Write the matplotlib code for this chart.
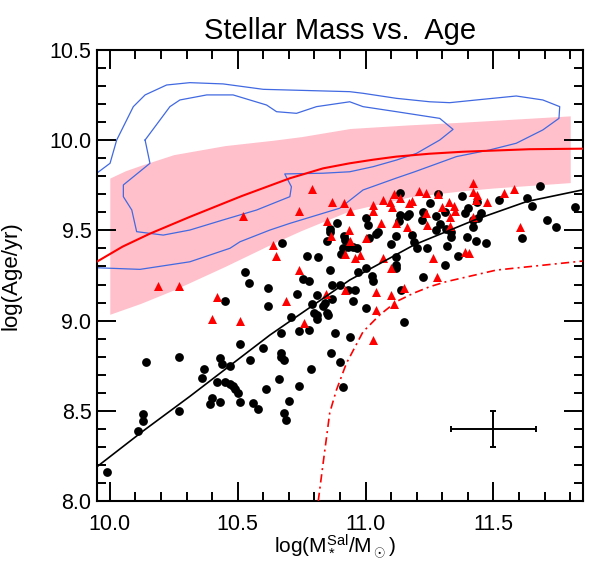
import matplotlib
matplotlib.use('Agg')
import matplotlib.pyplot as plt
from matplotlib.ticker import MultipleLocator

plt.rc('font', family='Liberation Sans', size=15.5)
plt.rc('mathtext', fontset='custom', rm='Liberation Sans', it='Liberation Sans:italic', bf='Liberation Sans:bold')

# galaxies: black circles
black_x = [9.99, 10.11, 10.13, 10.13, 10.14, 10.27, 10.27, 10.36, 10.37, 10.39, 10.40, 10.43, 10.42, 10.43, 10.44,
           10.45, 10.47, 10.48, 10.49, 10.50, 10.47, 10.51, 10.51, 10.55, 10.56, 10.58, 10.45, 10.53, 10.545, 10.60,
           10.61, 10.62, 10.62, 10.66, 10.67, 10.67, 10.67, 10.675, 10.68, 10.68, 10.69, 10.70, 10.71, 10.73, 10.74,
           10.74, 10.755, 10.77, 10.78, 10.78, 10.785, 10.79, 10.80, 10.81, 10.81, 10.815, 10.81, 10.835, 10.84, 10.85,
           10.855, 10.85, 10.86, 10.86, 10.86, 10.87, 10.87, 10.865, 10.88, 10.89, 10.90, 10.90, 10.905, 10.91, 10.91,
           10.915, 10.92, 10.93, 10.93, 10.94, 10.95, 10.965, 10.96, 10.95, 10.97, 11.00, 11.00, 11.01, 11.00, 11.015,
           11.04, 11.05, 11.025, 11.03, 11.10, 11.12, 11.135, 11.135, 11.16, 11.17, 11.13, 11.12, 11.12, 11.12, 11.14,
           11.15, 11.18, 11.19, 11.20, 11.22, 11.225, 11.24, 11.225, 11.25, 11.275, 11.285, 11.29, 11.275, 11.31, 11.315,
           11.335, 11.335, 11.32, 11.31, 11.36, 11.375, 11.40, 11.39, 11.395, 11.42, 11.42, 11.435, 11.44, 11.45, 11.43,
           11.47, 11.52, 11.63, 11.65, 11.68, 11.71, 11.745, 11.82, 11.61]
black_y = [8.16, 8.39, 8.48, 8.445, 8.77, 8.80, 8.50, 8.68, 8.73, 8.54, 8.57, 8.55, 8.66, 8.79, 8.76,
           8.66, 8.65, 8.64, 8.62, 8.60, 8.75, 8.55, 8.87, 8.78, 8.545, 8.51, 9.11, 9.27, 9.21, 8.85,
           8.62, 9.18, 9.08, 8.675, 8.93, 8.82, 8.80, 9.43, 8.49, 8.78, 8.45, 8.555, 9.02, 9.15, 8.94,
           8.64, 9.23, 9.36, 9.22, 8.95, 8.73, 9.09, 9.04, 9.03, 9.01, 9.35, 9.14, 9.08, 9.095, 9.04,
           9.03, 9.44, 9.51, 9.49, 9.28, 9.20, 9.12, 8.82, 8.93, 9.54, 9.20, 8.77, 9.37, 8.63, 9.40,
           9.47, 9.445, 9.41, 9.17, 8.91, 9.41, 9.40, 9.17, 9.11, 9.27, 9.07, 9.57, 9.53, 9.29, 9.46,
           9.48, 9.49, 9.25, 9.22, 9.425, 9.47, 9.71, 9.585, 9.58, 9.59, 9.55, 9.35, 9.31, 9.29, 9.17,
           8.99, 9.475, 9.435, 9.40, 9.555, 9.60, 9.405, 9.24, 9.65, 9.58, 9.70, 9.535, 9.50, 9.60, 9.505,
           9.49, 9.465, 9.415, 9.31, 9.36, 9.69, 9.625, 9.595, 9.465, 9.52, 9.56, 9.655, 9.57, 9.595, 9.44,
           9.43, 9.67, 9.68, 9.635, 9.745, 9.555, 9.52, 9.63, 9.46]

# galaxies: red triangles
red_x = [10.19, 10.27, 10.42, 10.40, 10.51, 10.52, 10.64, 10.65, 10.69, 10.74, 10.74, 10.76, 10.79, 10.845,
         10.85, 10.865, 10.87, 10.915, 10.92, 10.92, 10.935, 10.94, 10.94, 10.96, 10.98, 11.00, 11.03, 11.03,
         11.04, 11.04, 11.03, 11.06, 11.07, 11.07, 11.10, 11.10, 11.11, 11.11, 11.095, 11.105, 11.12, 11.135,
         11.15, 11.16, 11.17, 11.18, 11.21, 11.235, 11.235, 11.24, 11.265, 11.28, 11.285, 11.30, 11.325, 11.345,
         11.35, 11.33, 11.33, 11.39, 11.405, 11.42, 11.42, 11.435, 11.43, 11.42, 11.475, 11.54, 11.58, 11.605]
red_y = [9.19, 9.19, 9.13, 9.01, 9.00, 9.58, 9.42, 9.36, 9.11, 9.61, 9.28, 8.985, 9.73, 9.15,
         9.55, 9.47, 9.66, 9.65, 9.37, 9.17, 9.50, 9.44, 9.61, 9.345, 9.365, 9.46, 9.64, 9.61,
         9.16, 9.06, 8.89, 9.54, 9.67, 9.345, 9.29, 9.14, 9.09, 9.70, 9.66, 9.63, 9.54, 9.68,
         9.18, 9.52, 9.65, 9.665, 9.72, 9.705, 9.595, 9.53, 9.345, 9.24, 9.70, 9.63, 9.655, 9.635,
         9.61, 9.575, 9.525, 9.38, 9.375, 9.76, 9.715, 9.695, 9.67, 9.575, 9.66, 9.71, 9.73, 9.52]

# pink band
band_x = [10.00, 10.06, 10.12, 10.25, 10.45, 10.64, 10.75, 10.94, 11.17, 11.38, 11.50, 11.80]
band_hi = [9.79, 9.83, 9.86, 9.92, 9.97, 10.00, 10.02, 10.065, 10.085, 10.10, 10.11, 10.135]
band_lo = [9.035, 9.065, 9.095, 9.17, 9.30, 9.43, 9.50, 9.61, 9.685, 9.72, 9.735, 9.765]

# blue contours
outer_x = [9.949, 10.001, 10.027, 10.092, 10.138, 10.222, 10.313, 10.443, 10.60, 10.938, 10.99, 11.121, 11.251,
           11.329, 11.433, 11.589, 11.693, 11.759, 11.756, 11.693, 11.589, 11.485, 11.355, 11.192, 11.12, 10.99,
           10.899, 10.704, 10.626, 10.509, 10.47, 10.313, 10.118, 9.949]
outer_y = [9.817, 9.872, 10.001, 10.186, 10.251, 10.306, 10.319, 10.312, 10.282, 10.269, 10.26, 10.232, 10.213,
           10.208, 10.223, 10.245, 10.223, 10.186, 10.121, 10.057, 9.983, 9.946, 9.909, 9.825, 9.79, 9.724,
           9.623, 9.539, 9.502, 9.437, 9.401, 9.326, 9.284, 9.293]
inner_x = [10.138, 10.235, 10.274, 10.379, 10.482, 10.613, 10.652, 10.73, 10.808, 10.938, 10.99, 11.121, 11.29,
           11.342, 11.29, 11.199, 11.121, 11.029, 10.938, 10.834, 10.684, 10.71, 10.704, 10.574, 10.443, 10.313,
           10.209, 10.105, 10.086, 10.053, 10.053, 10.157, 10.138]
inner_y = [10.001, 10.186, 10.223, 10.251, 10.251, 10.195, 10.158, 10.149, 10.186, 10.213, 10.186, 10.158, 10.121,
           10.06, 10.001, 9.927, 9.89, 9.853, 9.825, 9.817, 9.813, 9.742, 9.687, 9.613, 9.558, 9.502,
           9.474, 9.493, 9.613, 9.687, 9.752, 9.872, 10.001]

# red model curve
model_x = [9.95, 10.05, 10.157, 10.313, 10.515, 10.704, 10.834, 10.938, 11.03, 11.12, 11.25, 11.38, 11.64, 11.85]
model_y = [9.327, 9.41, 9.482, 9.575, 9.69, 9.789, 9.844, 9.872, 9.892, 9.909, 9.925, 9.936, 9.95, 9.953]

# black fit
fit_x = [9.95, 10.132, 10.313, 10.626, 10.938, 11.19, 11.43, 11.63, 11.85]
fit_y = [8.19, 8.39, 8.58, 8.92, 9.225, 9.42, 9.56, 9.66, 9.725]

# red dash-dot limit
lim_x = [10.815, 10.834, 10.86, 10.886, 10.925, 10.99, 11.055, 11.12, 11.186, 11.251, 11.316, 11.511, 11.848]
lim_y = [8.0, 8.209, 8.49, 8.615, 8.763, 8.938, 9.031, 9.105, 9.151, 9.188, 9.216, 9.28, 9.33]

# typical error
err_x, err_y = 11.5, 8.4
err_dx, err_dy = 0.165, 0.1

fig = plt.figure(figsize=(5.9, 5.61), dpi=100)
ax = fig.add_axes([97/590, 1 - 501/561, 486/590, 451/561])

ax.fill_between(band_x, band_lo, band_hi, color='pink', lw=0, zorder=1)
ax.plot(outer_x, outer_y, color='#4169e1', lw=0.9, zorder=2)
ax.plot(inner_x, inner_y, color='#4169e1', lw=0.9, zorder=2)
ax.plot(model_x, model_y, color='red', lw=1.5, zorder=3)
ax.scatter(black_x, black_y, s=40, c='black', marker='o', lw=0, zorder=4)
ax.scatter(red_x, red_y, s=42, c='red', marker='^', lw=0, zorder=5)
ax.plot(fit_x, fit_y, color='black', lw=1.2, zorder=6)
ax.plot(lim_x, lim_y, color='red', lw=1.2, dashes=[5, 2.5, 1.2, 2.5], zorder=6)
ax.errorbar(err_x, err_y, xerr=err_dx, yerr=err_dy, color='black', lw=1.4, capsize=2.5, capthick=1.4, zorder=7)

ax.set_xlim(9.95, 11.85)
ax.set_ylim(8.0, 10.5)
ax.xaxis.set_major_locator(MultipleLocator(0.5))
ax.xaxis.set_minor_locator(MultipleLocator(0.1))
ax.yaxis.set_major_locator(MultipleLocator(0.5))
ax.yaxis.set_minor_locator(MultipleLocator(0.1))
ax.xaxis.set_major_formatter(plt.FormatStrFormatter('%.1f'))
ax.yaxis.set_major_formatter(plt.FormatStrFormatter('%.1f'))
ax.tick_params(which='both', direction='in', top=True, right=True, width=1.4)
ax.tick_params(which='major', length=13.5)
ax.tick_params(which='minor', length=6.5)
ax.tick_params(axis='x', pad=9)
ax.tick_params(axis='y', pad=4)
for sp in ax.spines.values():
    sp.set_linewidth(1.5)

ax.set_title('Stellar Mass vs.  Age', fontsize=21, pad=8)
ax.set_xlabel(r'log(M$_*^{\rm Sal}$/M$_\odot$)', fontsize=15)
ax.set_ylabel('log(Age/yr)', fontsize=16)
ax.xaxis.set_label_coords(0.49, -0.07)
ax.yaxis.set_label_coords(-0.155, 0.5)

plt.savefig('out.png', dpi=100)
